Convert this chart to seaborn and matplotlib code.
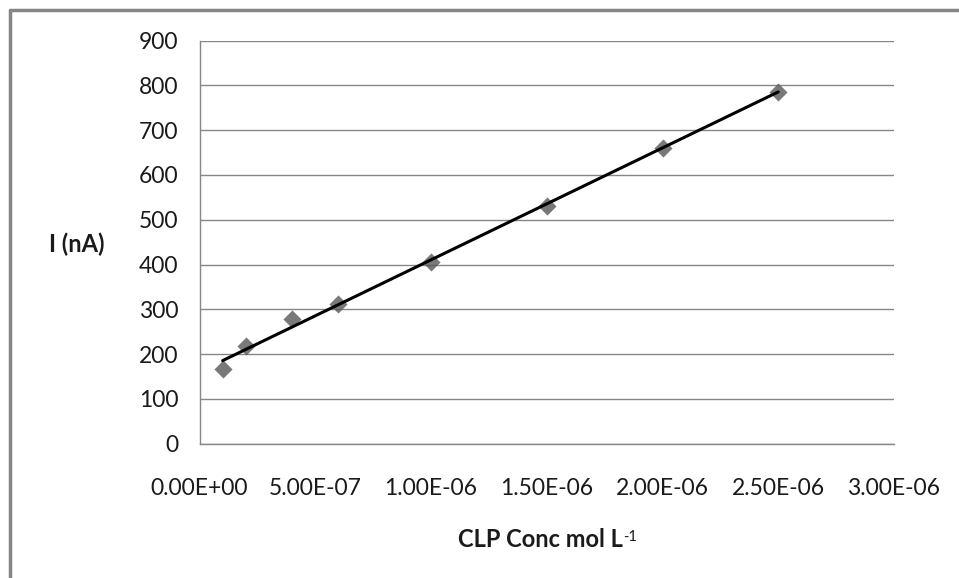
import numpy as np
import pandas as pd
import matplotlib
matplotlib.use("Agg")
import matplotlib.pyplot as plt
from matplotlib.lines import Line2D
import seaborn as sns

# Data
conc = [1e-7, 2e-7, 4e-7, 6e-7, 1.0e-6, 1.5e-6, 2.0e-6, 2.5e-6]
current = [166, 218, 278, 312, 406, 531, 661, 786]
y_ticks = [0, 100, 200, 300, 400, 500, 600, 700, 800, 900]
x_ticks = [0, 5e-7, 1e-6, 1.5e-6, 2e-6, 2.5e-6, 3e-6]

df = pd.DataFrame({"conc": conc, "current": current})

sns.set_theme(style="white")
plt.rcParams["font.family"] = ["Lato", "DejaVu Sans"]

fig = plt.figure(figsize=(9.59, 5.78), dpi=100)
ax = fig.add_axes([199.5 / 959, 1 - 443.7 / 578, (894 - 199.5) / 959, (443.7 - 40.5) / 578])

grid_col = "#868686"

sns.regplot(data=df, x="conc", y="current", ax=ax, ci=None, marker="D",
            scatter_kws=dict(s=85, color="#585858", linewidths=0, zorder=3),
            line_kws=dict(color="black", linewidth=2.2, zorder=4))

ax.set_xlim(0, 3e-6)
ax.set_ylim(0, 900)
ax.set_yticks(y_ticks)
ax.set_xticks(x_ticks)
ax.set_xticklabels(["{:.2E}".format(v) for v in x_ticks])
ax.set_yticklabels([str(v) for v in y_ticks])

ax.yaxis.grid(True, color=grid_col, linewidth=1.0)
ax.set_axisbelow(True)
for side in ["top", "right"]:
    ax.spines[side].set_visible(False)
for side in ["left", "bottom"]:
    ax.spines[side].set_color(grid_col)
    ax.spines[side].set_linewidth(1.0)

ax.tick_params(axis="both", which="major", direction="out", length=7, width=1.0,
               color=grid_col, labelsize=16.5, labelcolor="#1a1a1a")
ax.tick_params(axis="y", pad=8)
ax.tick_params(axis="x", pad=18)

ax.set_xlabel("")
ax.set_ylabel("")
fig.text(77 / 959, 1 - 244 / 578, "I (nA)", ha="center", va="center",
         fontsize=17, fontweight="bold", color="#1a1a1a")
main = fig.text(540 / 959, 1 - 547 / 578, "CLP Conc mol L", ha="center", va="baseline",
                fontsize=17, fontweight="bold", color="#1a1a1a")
ax.annotate("-1", xy=(1, 0), xycoords=main, xytext=(0.5, 7), textcoords="offset points",
            ha="left", va="baseline", fontsize=10.5, color="#1a1a1a", annotation_clip=False)

# Outer chart frame (only left and top edges visible in the reference)
fig.add_artist(Line2D([10 / 959, 10 / 959], [0, 1 - 10 / 578], transform=fig.transFigure,
                      color=grid_col, linewidth=2.5))
fig.add_artist(Line2D([10 / 959, 1], [1 - 10 / 578, 1 - 10 / 578], transform=fig.transFigure,
                      color=grid_col, linewidth=2.5))

fig.savefig("out.png", dpi=100, facecolor="white")
